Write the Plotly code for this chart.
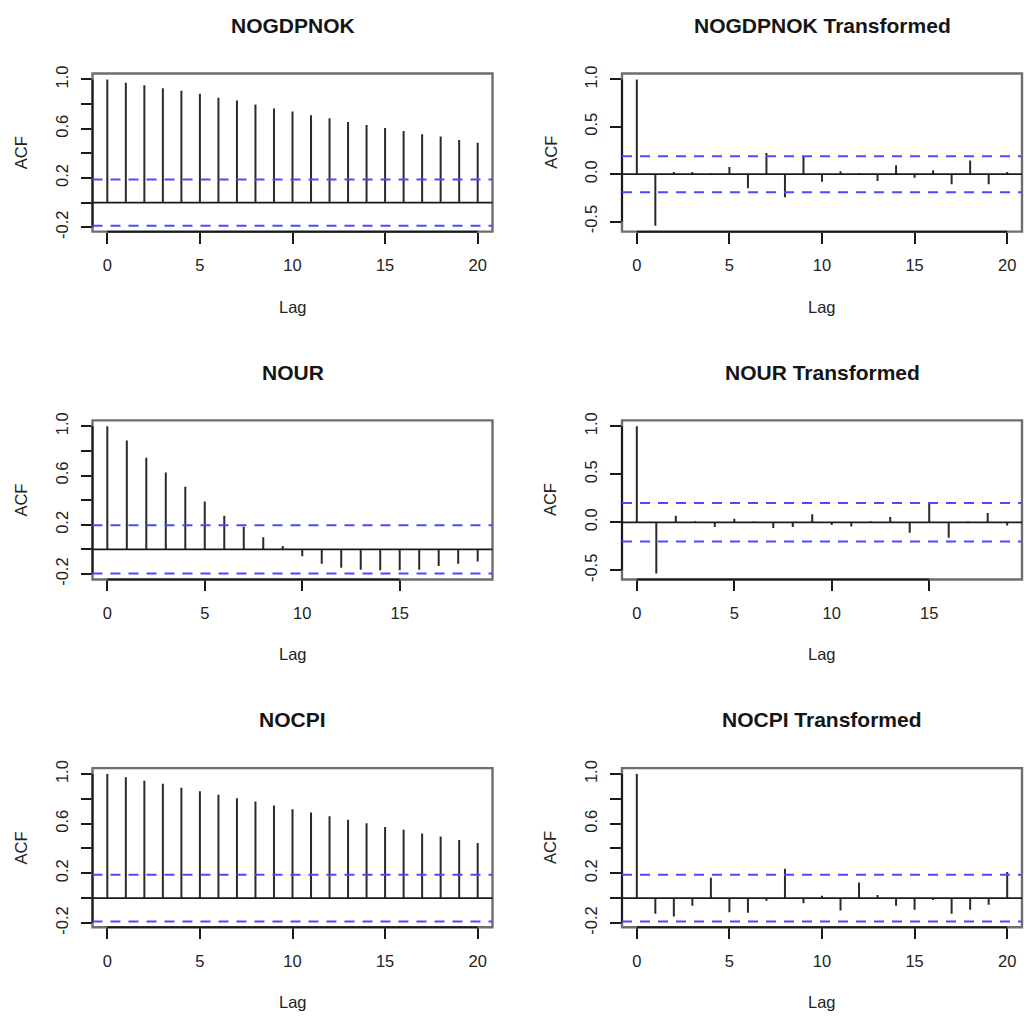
import plotly.graph_objects as go

# ---------------- data ----------------
titles = ["NOGDPNOK", "NOGDPNOK Transformed", "NOUR", "NOUR Transformed",
          "NOCPI", "NOCPI Transformed"]

lags_20 = list(range(0, 21))
lags_19 = list(range(0, 20))

acf_nogdpnok = [1.0, 0.973, 0.952, 0.928, 0.907, 0.883, 0.851, 0.828, 0.796, 0.764,
                0.740, 0.708, 0.684, 0.655, 0.629, 0.605, 0.581, 0.554, 0.536, 0.509, 0.485]
acf_nogdpnok_tr = [1.0, -0.545, 0.024, 0.024, 0.007, 0.076, -0.148, 0.224, -0.245, 0.19,
                   -0.079, 0.031, 0.010, -0.072, 0.093, -0.038, 0.041, -0.107, 0.145, -0.107, 0.024]
acf_nour = [1.0, 0.884, 0.745, 0.624, 0.508, 0.390, 0.274, 0.185, 0.099, 0.027,
            -0.056, -0.116, -0.148, -0.164, -0.169, -0.169, -0.164, -0.134, -0.116, -0.097]
acf_nour_tr = [1.0, -0.534, 0.069, 0.010, -0.048, 0.038, 0.007, -0.059, -0.048, 0.083,
               -0.028, -0.045, 0.010, 0.055, -0.110, 0.193, -0.162, 0.007, 0.097, -0.034]
acf_nocpi = [1.0, 0.974, 0.947, 0.921, 0.889, 0.862, 0.833, 0.804, 0.778, 0.746,
             0.717, 0.690, 0.659, 0.632, 0.603, 0.574, 0.550, 0.521, 0.497, 0.468, 0.444]
acf_nocpi_tr = [1.0, -0.127, -0.149, -0.061, 0.164, -0.114, -0.119, -0.021, 0.236, -0.042,
                0.019, -0.101, 0.125, 0.024, -0.061, -0.095, -0.016, -0.127, -0.095, -0.053, 0.210]

conf_limits = [0.188, 0.19, 0.196, 0.2, 0.188, 0.188]

x_ticks_20 = [0, 5, 10, 15, 20]
x_ticks_15 = [0, 5, 10, 15]
y_ticks_a = [-0.2, 0.0, 0.2, 0.4, 0.6, 0.8, 1.0]
y_text_a = ["-0.2", "", "0.2", "", "0.6", "", "1.0"]
y_ticks_b = [-0.5, 0.0, 0.5, 1.0]
y_text_b = ["-0.5", "0.0", "0.5", "1.0"]

panels = [
    dict(title=titles[0], lags=lags_20, acf=acf_nogdpnok, ci=conf_limits[0], xt=x_ticks_20, yt=y_ticks_a, ytt=y_text_a),
    dict(title=titles[1], lags=lags_20, acf=acf_nogdpnok_tr, ci=conf_limits[1], xt=x_ticks_20, yt=y_ticks_b, ytt=y_text_b),
    dict(title=titles[2], lags=lags_19, acf=acf_nour, ci=conf_limits[2], xt=x_ticks_15, yt=y_ticks_a, ytt=y_text_a),
    dict(title=titles[3], lags=lags_19, acf=acf_nour_tr, ci=conf_limits[3], xt=x_ticks_15, yt=y_ticks_b, ytt=y_text_b),
    dict(title=titles[4], lags=lags_20, acf=acf_nocpi, ci=conf_limits[4], xt=x_ticks_20, yt=y_ticks_a, ytt=y_text_a),
    dict(title=titles[5], lags=lags_20, acf=acf_nocpi_tr, ci=conf_limits[5], xt=x_ticks_20, yt=y_ticks_a, ytt=y_text_a),
]

# ---------------- layout geometry (pixels) ----------------
W, H = 1024, 1021
col_x = [(92.5, 492.5), (622.0, 1022.0)]
row_y = [(66.5, 227.0), (418.5, 580.0), (771.5, 933.0)]

FONT = "Liberation Sans, Arial, Helvetica, sans-serif"
TICK_FONT = dict(family=FONT, size=16.5, color="#222222")

fig = go.Figure()
layout = dict(width=W, height=H, margin=dict(l=0, r=0, t=0, b=0),
              paper_bgcolor="white", plot_bgcolor="white", showlegend=False)
shapes = []
annotations = []

for i, p in enumerate(panels):
    n = i + 1
    r, c = divmod(i, 2)
    xname = "x" if n == 1 else f"x{n}"
    yname = "y" if n == 1 else f"y{n}"
    xkey = "xaxis" if n == 1 else f"xaxis{n}"
    ykey = "yaxis" if n == 1 else f"yaxis{n}"

    x0p, x1p = col_x[c]
    ytop, ybot = row_y[r]
    xdom = [x0p / W, x1p / W]
    ydom = [1 - ybot / H, 1 - ytop / H]

    lags = p["lags"]
    vals = p["acf"]
    ci = p["ci"]
    maxlag = max(lags)
    xr = [0 - 0.04 * maxlag, maxlag + 0.04 * maxlag]
    lo = min(min(vals), -ci)
    hi = max(max(vals), ci)
    ext = 0.04 * (hi - lo)
    yr = [lo - ext, hi + ext]

    xs, ys = [], []
    for lg, v in zip(lags, vals):
        xs += [lg, lg, None]
        ys += [0, v, None]
    fig.add_trace(go.Scatter(x=xs, y=ys, mode="lines",
                             line=dict(color="#2a2a2a", width=2),
                             xaxis=xname, yaxis=yname, hoverinfo="skip",
                             showlegend=False))

    layout[xkey] = dict(domain=xdom, range=xr, anchor=yname,
                        tickmode="array", tickvals=p["xt"],
                        ticktext=[str(t) for t in p["xt"]],
                        ticks="outside", ticklen=11, tickwidth=1.6, tickcolor="#1a1a1a",
                        showgrid=False, zeroline=False, showline=False,
                        tickfont=TICK_FONT, ticklabelstandoff=8, fixedrange=True)
    layout[ykey] = dict(domain=ydom, range=yr, anchor=xname,
                        tickmode="array", tickvals=p["yt"], ticktext=p["ytt"],
                        ticks="outside", ticklen=11, tickwidth=1.6, tickcolor="#1a1a1a",
                        showgrid=False, zeroline=False, showline=False,
                        tickangle=-90, tickfont=TICK_FONT, ticklabelstandoff=6,
                        fixedrange=True)

    # plot box
    shapes.append(dict(type="rect", xref=f"{xname} domain", yref=f"{yname} domain",
                       x0=0, x1=1, y0=0, y1=1, line=dict(color="#6e6e6e", width=2.4),
                       layer="above"))
    # axis lines (first to last tick)
    shapes.append(dict(type="line", xref=xname, yref=f"{yname} domain",
                       x0=p["xt"][0], x1=p["xt"][-1], y0=0, y1=0,
                       line=dict(color="#1a1a1a", width=2), layer="above"))
    shapes.append(dict(type="line", xref=f"{xname} domain", yref=yname,
                       x0=0, x1=0, y0=p["yt"][0], y1=p["yt"][-1],
                       line=dict(color="#1a1a1a", width=2), layer="above"))
    # zero line
    shapes.append(dict(type="line", xref=f"{xname} domain", yref=yname,
                       x0=0, x1=1, y0=0, y1=0,
                       line=dict(color="#1a1a1a", width=1.8), layer="above"))
    # confidence limits
    for s in (ci, -ci):
        shapes.append(dict(type="line", xref=f"{xname} domain", yref=yname,
                           x0=0, x1=1, y0=s, y1=s,
                           line=dict(color="#4a4aff", width=2, dash="10px,8px"),
                           layer="above"))

    cx = (x0p + x1p) / 2
    # title
    annotations.append(dict(text=f"<b>{p['title']}</b>", x=cx / W, y=1 - (ytop - 49) / H,
                            xref="paper", yref="paper", xanchor="center", yanchor="middle",
                            showarrow=False, font=dict(family=FONT, size=21, color="#151515")))
    # x label
    annotations.append(dict(text="Lag", x=cx / W, y=1 - (ybot + 76) / H,
                            xref="paper", yref="paper", xanchor="center", yanchor="middle",
                            showarrow=False, font=dict(family=FONT, size=16.5, color="#222222")))
    # y label
    annotations.append(dict(text="ACF", x=(x0p - 71.8) / W, y=1 - ((ytop + ybot) / 2) / H,
                            xref="paper", yref="paper", xanchor="center", yanchor="middle",
                            textangle=-90, showarrow=False,
                            font=dict(family=FONT, size=16.5, color="#222222")))

layout["shapes"] = shapes
layout["annotations"] = annotations
fig.update_layout(**layout)
fig.write_html("out.html",
               post_script="document.body.style.margin='0';document.body.style.overflow='hidden';")
